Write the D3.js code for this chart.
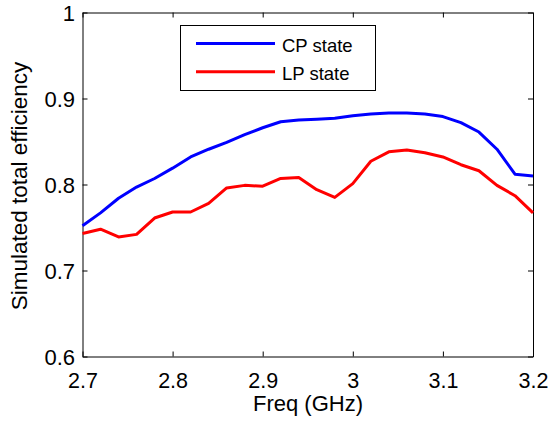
<!DOCTYPE html>
<html>
<head>
<meta charset="utf-8">
<script src="https://cdn.jsdelivr.net/npm/d3@7"></script>
<style>
  body { margin: 0; background: #fff; }
  text { font-family: "Liberation Sans", Arial, sans-serif; fill: #000; }
</style>
</head>
<body>
<div id="chart"></div>
<script>
// frequency points (GHz)
var freq = [2.70, 2.72, 2.74, 2.76, 2.78, 2.80, 2.82, 2.84, 2.86, 2.88, 2.90, 2.92, 2.94,
            2.96, 2.98, 3.00, 3.02, 3.04, 3.06, 3.08, 3.10, 3.12, 3.14, 3.16, 3.18, 3.20];
var cpState = [0.752, 0.767, 0.784, 0.797, 0.807, 0.819, 0.832, 0.841, 0.849, 0.858, 0.866, 0.873, 0.875,
               0.876, 0.877, 0.880, 0.882, 0.883, 0.883, 0.882, 0.879, 0.872, 0.861, 0.841, 0.812, 0.810];
var lpState = [0.743, 0.748, 0.739, 0.742, 0.761, 0.768, 0.768, 0.778, 0.796, 0.799, 0.798, 0.807, 0.808,
               0.794, 0.785, 0.801, 0.827, 0.838, 0.840, 0.837, 0.832, 0.823, 0.816, 0.799, 0.787, 0.767];
var seriesNames = ["CP state", "LP state"];
var seriesColors = ["#0000ff", "#ff0000"];
var xTicks = [2.7, 2.8, 2.9, 3.0, 3.1, 3.2];
var yTicks = [0.6, 0.7, 0.8, 0.9, 1.0];

var W = 548, H = 423;
var margin = {top: 12.5, right: 15, bottom: 66.5, left: 82.5};

var svg = d3.select('#chart').append('svg')
    .attr('width', W)
    .attr('height', H);

var x = d3.scaleLinear().domain([2.7, 3.2]).range([margin.left, W - margin.right]);
var y = d3.scaleLinear().domain([0.6, 1.0]).range([H - margin.bottom, margin.top]);

// frame with inward ticks on all four sides
var fmt = function (d) { return String(+d.toFixed(1)); };
var bottom = svg.append('g').attr('transform', 'translate(0,' + y(0.6) + ')')
    .call(d3.axisBottom(x).tickValues(xTicks).tickSizeInner(-5).tickSizeOuter(0).tickPadding(16).tickFormat(fmt));
var left = svg.append('g').attr('transform', 'translate(' + x(2.7) + ',0)')
    .call(d3.axisLeft(y).tickValues(yTicks).tickSizeInner(-5).tickSizeOuter(0).tickPadding(7.5).tickFormat(fmt));
svg.append('g').attr('transform', 'translate(0,' + y(1.0) + ')')
    .call(d3.axisTop(x).tickValues(xTicks).tickSizeInner(-5).tickSizeOuter(0).tickFormat(''));
svg.append('g').attr('transform', 'translate(' + x(3.2) + ',0)')
    .call(d3.axisRight(y).tickValues(yTicks).tickSizeInner(-5).tickSizeOuter(0).tickFormat(''));

svg.selectAll('.domain').attr('stroke', '#000').attr('stroke-width', 1);
svg.selectAll('.tick line').attr('stroke', '#000');
bottom.selectAll('text').attr('font-size', 21.5).style('font-family', '"Liberation Sans", Arial, sans-serif');
left.selectAll('text').attr('font-size', 22).attr('dy', '0.37em').style('font-family', '"Liberation Sans", Arial, sans-serif');

// lines
var line = d3.line()
    .x(function (d, i) { return x(freq[i]); })
    .y(function (d) { return y(d); });

[cpState, lpState].forEach(function (s, k) {
    svg.append('path')
        .datum(s)
        .attr('fill', 'none')
        .attr('stroke', seriesColors[k])
        .attr('stroke-width', 3)
        .attr('stroke-linejoin', 'round')
        .attr('d', line);
});

// legend
var lg = svg.append('g');
lg.append('rect')
    .attr('x', 180.5).attr('y', 25.5)
    .attr('width', 195).attr('height', 65)
    .attr('fill', '#fff').attr('stroke', '#000').attr('stroke-width', 1);
seriesNames.forEach(function (n, k) {
    var ly = 43.5 + k * 28.3;
    lg.append('line')
        .attr('x1', 196).attr('x2', 275)
        .attr('y1', ly).attr('y2', ly)
        .attr('stroke', seriesColors[k]).attr('stroke-width', 3);
    lg.append('text')
        .attr('x', 282).attr('y', ly + 8.3)
        .attr('font-size', 18.5)
        .text(n);
});

// axis titles
svg.append('text')
    .attr('x', 308).attr('y', 411)
    .attr('text-anchor', 'middle')
    .attr('font-size', 22)
    .text('Freq (GHz)');
svg.append('text')
    .attr('transform', 'translate(27,186) rotate(-90)')
    .attr('text-anchor', 'middle')
    .attr('font-size', 22.5)
    .text('Simulated total efficiency');
</script>
</body>
</html>
